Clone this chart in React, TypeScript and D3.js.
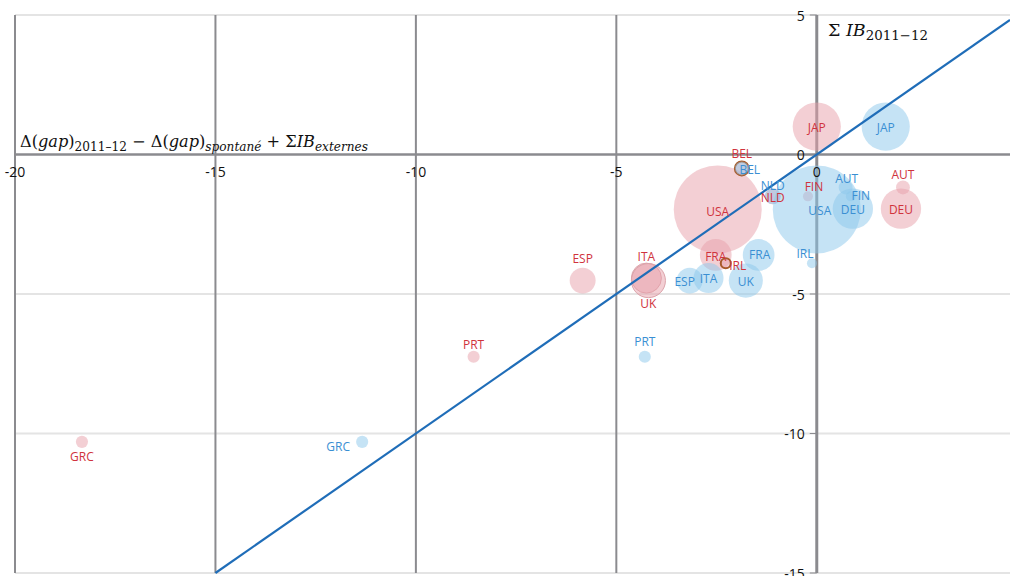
import React from 'react';
import * as d3 from 'd3';

// countries, in the order the bubbles are drawn
const countries = ['GRC', 'PRT', 'ESP', 'ITA', 'UK', 'USA', 'FRA', 'IRL', 'BEL', 'NLD', 'FIN', 'JAP', 'AUT', 'DEU'];
// bubble weight (same for both series)
const weights = [1.9, 1.9, 8.7, 11.6, 15, 100, 13, 1.3, 2.5, 3.3, 1.3, 30, 2.5, 21];
// y : sum of budget impulses 2011-12
const sumIB = [-10.3, -7.25, -4.52, -4.43, -4.52, -1.97, -3.6, -3.9, -0.5, -1.5, -1.5, 1.0, -1.18, -1.94];
// x, red series : gap change - spontaneous gap change
const gapRed = [-18.33, -8.56, -5.84, -4.25, -4.2, -2.47, -2.52, -2.27, -1.87, -1.1, -0.22, 0.0, 2.15, 2.1];
// x, blue series : same + external budget impulses
const gapBlue = [-11.34, -4.29, -3.17, -2.7, -1.77, 0.0, -1.45, -0.12, -1.87, -1.1, 0.85, 1.72, 0.72, 0.9];

const xTicks = [-20, -15, -10, -5, 0];
const yTicks = [5, 0, -5, -10, -15];

// label placement (px offsets from bubble centre)
const redLabelPos: Record<string, [number, number]> = {
  GRC: [0, 15], PRT: [0, -12], ESP: [0, -22], ITA: [0, -22], UK: [0, 23], USA: [0, 2],
  FRA: [0, 2], IRL: [12, 2], BEL: [0, -15], NLD: [0, 1], FIN: [6, -10], JAP: [0, 1],
  AUT: [0, -13], DEU: [0, 1],
};
const blueLabelPos: Record<string, [number, number]> = {
  GRC: [-24, 5], PRT: [0, -15], ESP: [-5, 1], ITA: [0, 0], UK: [0, 1], USA: [3, 1],
  FRA: [1, 0], IRL: [-7, -10], BEL: [8, 1], NLD: [0, -11], FIN: [10, -1], JAP: [0, 1],
  AUT: [1, -9], DEU: [0, 1],
};
const outlined = ['BEL', 'IRL'];

export default function App() {
  const width = 1010;
  const height = 576;
  const x = d3.scaleLinear().domain([-20, 4.82]).range([15, 1010]);
  const y = d3.scaleLinear().domain([-15, 5]).range([573, 15]);
  const r = d3.scaleSqrt().domain([0, 100]).range([0, 44]);

  const red = countries.map((c, i) => ({ c, x: gapRed[i], y: sumIB[i], w: weights[i] }));
  const blue = countries.map((c, i) => ({ c, x: gapBlue[i], y: sumIB[i], w: weights[i] }));

  const gridDark = '#8b8b8f';
  const gridLight = '#e4e4e4';
  const redText = '#d0333d';
  const blueText = '#3a8fd3';
  const tickFont = { fontFamily: 'Open Sans, sans-serif', fontSize: 14, fill: '#111' };
  const mathFont = 'DejaVu Serif, serif';

  return (
    <svg width={width} height={height} style={{ position: 'absolute', left: 0, top: 0, background: '#fff' }}>
      {/* horizontal gridlines */}
      {yTicks.filter(t => t !== 0).map(t => (
        <line key={'h' + t} x1={15} x2={width} y1={y(t)} y2={y(t)} stroke={gridLight} strokeWidth={2} />
      ))}
      {/* vertical gridlines */}
      {xTicks.filter(t => t !== 0).map(t => (
        <line key={'v' + t} x1={x(t)} x2={x(t)} y1={y(5)} y2={y(-15)} stroke={gridDark} strokeWidth={2} />
      ))}
      {/* axes */}
      <line x1={15} x2={width} y1={y(0)} y2={y(0)} stroke={gridDark} strokeWidth={2.5} />
      <line x1={x(0)} x2={x(0)} y1={y(5)} y2={y(-15)} stroke={gridDark} strokeWidth={3} />
      {yTicks.map(t => (
        <line key={'yt' + t} x1={x(0) - 7} x2={x(0)} y1={y(t)} y2={y(t)} stroke={gridDark} strokeWidth={1} />
      ))}

      {/* bubbles */}
      {red.map(d => (
        <circle key={'r' + d.c} cx={x(d.x)} cy={y(d.y)} r={r(d.w)}
          fill="#e7a0aa" fillOpacity={0.5}
          stroke={outlined.includes(d.c) ? '#a85a2a' : (d.c === 'ITA' || d.c === 'UK' ? '#dca4ab' : 'none')}
          strokeWidth={outlined.includes(d.c) ? 2 : 1} />
      ))}
      {blue.map(d => (
        <circle key={'b' + d.c} cx={x(d.x)} cy={y(d.y)} r={r(d.w)} fill="#8cc8ec" fillOpacity={0.5} />
      ))}

      {/* 45 degree line */}
      <line x1={x(-15)} y1={y(-15)} x2={x(4.82)} y2={y(4.82)} stroke="#1f6db8" strokeWidth={2.2} />

      {/* bubble labels */}
      {red.map(d => {
        const [dx, dy] = redLabelPos[d.c];
        return (
          <text key={'rl' + d.c} x={x(d.x) + dx} y={y(d.y) + dy} textAnchor="middle" dominantBaseline="central"
            fontFamily="Open Sans, sans-serif" fontSize={12} fill={redText}>{d.c}</text>
        );
      })}
      {blue.map(d => {
        const [dx, dy] = blueLabelPos[d.c];
        return (
          <text key={'bl' + d.c} x={x(d.x) + dx} y={y(d.y) + dy} textAnchor="middle" dominantBaseline="central"
            fontFamily="Open Sans, sans-serif" fontSize={12} fill={blueText}>{d.c}</text>
        );
      })}

      {/* tick labels */}
      {xTicks.map(t => (
        <text key={'xl' + t} x={x(t)} y={y(0) + 22} textAnchor="middle" {...tickFont}>{t}</text>
      ))}
      {yTicks.map(t => (
        <text key={'yl' + t} x={x(0) - 12} y={y(t)} textAnchor="end" dominantBaseline="central" {...tickFont}>{t}</text>
      ))}

      {/* axis titles */}
      <text x={20} y={147} fontFamily={mathFont} fontSize={16} fill="#111" textLength={348} lengthAdjust="spacingAndGlyphs">
        <tspan>Δ(</tspan><tspan fontStyle="italic">gap</tspan><tspan>)</tspan>
        <tspan fontSize={12} dy={4}>2011–12</tspan>
        <tspan dy={-4}> − Δ(</tspan><tspan fontStyle="italic">gap</tspan><tspan>)</tspan>
        <tspan fontSize={12} dy={4} fontStyle="italic">spontané</tspan>
        <tspan dy={-4}> + Σ</tspan><tspan fontStyle="italic">IB</tspan>
        <tspan fontSize={12} dy={4} fontStyle="italic">externes</tspan>
      </text>
      <text x={828} y={36} fontFamily={mathFont} fontSize={17} fill="#111" textLength={100} lengthAdjust="spacingAndGlyphs">
        <tspan>Σ </tspan><tspan fontStyle="italic">IB</tspan>
        <tspan fontSize={13} dy={4}>2011−12</tspan>
      </text>
    </svg>
  );
}
